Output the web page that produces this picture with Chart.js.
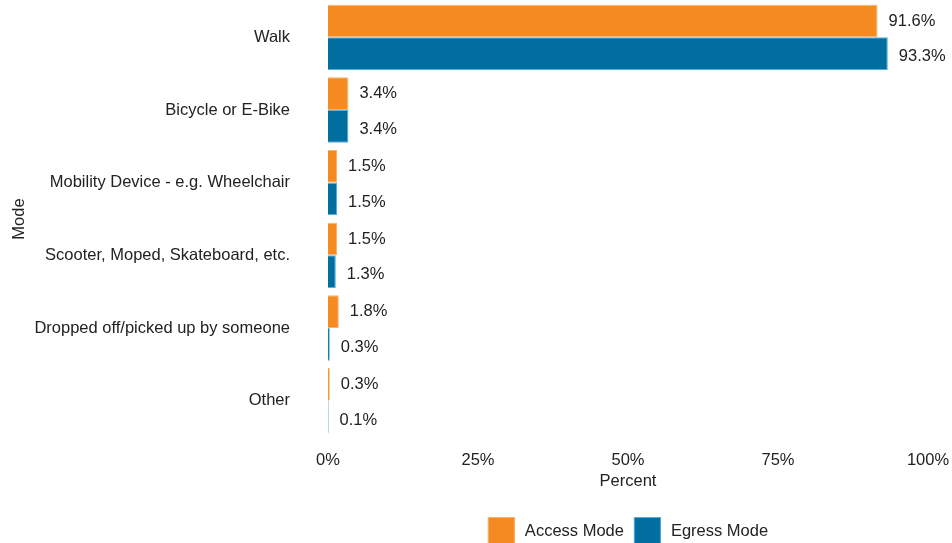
<!DOCTYPE html>
<html>
<head>
<meta charset="utf-8">
<script src="https://cdn.jsdelivr.net/npm/chart.js@4"></script>
<style>
  html, body { margin: 0; padding: 0; background: #fff; }
  #wrap { width: 952px; height: 543px; }
</style>
</head>
<body>
<div id="wrap"><canvas id="chart1"></canvas></div>
<script>
const modes = ["Walk", "Bicycle or E-Bike", "Mobility Device - e.g. Wheelchair",
    "Scooter, Moped, Skateboard, etc.", "Dropped off/picked up by someone", "Other"];
const accessMode = [91.6, 3.4, 1.5, 1.5, 1.8, 0.3];
const egressMode = [93.3, 3.4, 1.5, 1.3, 0.3, 0.1];
const percentTicks = [0, 25, 50, 75, 100];

const FONT = "'Liberation Sans', Arial, sans-serif";
const FSIZE = 16.5;
Chart.defaults.font.family = FONT;
Chart.defaults.color = "#222";

// Draw value labels right of every bar (no datalabels plugin offline)
const barLabels = {
    id: "barLabels",
    afterDatasetsDraw(chart) {
        const ctx = chart.ctx;
        ctx.save();
        ctx.font = FSIZE + "px " + FONT;
        ctx.fillStyle = "#222";
        ctx.textBaseline = "middle";
        ctx.textAlign = "left";
        chart.data.datasets.forEach((ds, i) => {
            const dy = i === 0 ? 0 : 3;
            chart.getDatasetMeta(i).data.forEach((bar, j) => {
                ctx.fillText(ds.data[j].toFixed(1) + "%", bar.x + 11, bar.y + dy);
            });
        });
        ctx.restore();
    }
};

// Legend at the bottom, centred under the plot area
const bottomLegend = {
    id: "bottomLegend",
    afterDraw(chart) {
        const ctx = chart.ctx;
        const box = 27, gapText = 10, gapItem = 10;
        ctx.save();
        ctx.font = FSIZE + "px " + FONT;
        const items = chart.data.datasets.map(ds => ({
            ds: ds, w: ctx.measureText(ds.label).width
        }));
        let total = 0;
        items.forEach((it, k) => {
            total += box + gapText + it.w + (k < items.length - 1 ? gapItem : 0);
        });
        const area = chart.chartArea;
        let x = (area.left + area.right) / 2 - total / 2;
        const top = 517;
        items.forEach(it => {
            ctx.fillStyle = it.ds.backgroundColor;
            ctx.fillRect(x, top, box, box);
            ctx.strokeStyle = it.ds.borderColor;
            ctx.lineWidth = 1;
            ctx.strokeRect(x + 0.5, top + 0.5, box - 1, box - 1);
            x += box + gapText;
            ctx.fillStyle = "#222";
            ctx.textBaseline = "middle";
            ctx.textAlign = "left";
            ctx.fillText(it.ds.label, x, top + 14);
            x += it.w + gapItem;
        });
        ctx.restore();
    }
};

const chartData = {
    labels: modes,
    datasets: [
        {
            label: "Access Mode",
            backgroundColor: "#F58B20",
            borderColor: "#F9B26A",
            borderWidth: 1,
            data: accessMode
        },
        {
            label: "Egress Mode",
            backgroundColor: "#006FA0",
            borderColor: "#56AEDF",
            borderWidth: 1,
            data: egressMode
        }
    ]
};

const chartConfig = {
    type: "bar",
    data: chartData,
    plugins: [barLabels, bottomLegend],
    options: {
        indexAxis: "y",
        responsive: true,
        maintainAspectRatio: false,
        animation: false,
        layout: { padding: { top: 1, right: 24, left: 0, bottom: 46 } },
        datasets: {
            bar: { categoryPercentage: 0.9, barPercentage: 1.0 }
        },
        plugins: {
            tooltip: { enabled: false },
            legend: { display: false }
        },
        scales: {
            x: {
                min: 0,
                max: 100,
                afterBuildTicks: (scale) => {
                    scale.ticks = percentTicks.map(v => ({ value: v }));
                },
                afterFit: (scale) => {
                    scale.height = 60;
                    scale.paddingLeft = 0;
                    scale.paddingRight = 0;
                },
                grid: { display: false, drawTicks: false },
                border: { display: false },
                ticks: {
                    padding: 14,
                    font: { size: FSIZE },
                    color: "#222",
                    callback: (v) => v + "%"
                },
                title: {
                    display: true,
                    text: "Percent",
                    font: { size: FSIZE },
                    color: "#222",
                    padding: { top: 0, bottom: 6 }
                }
            },
            y: {
                afterFit: (scale) => {
                    scale.width = 328;
                    scale.paddingTop = 0;
                    scale.paddingBottom = 0;
                },
                grid: { display: false, drawTicks: false },
                border: { display: false },
                ticks: {
                    padding: 38,
                    font: { size: FSIZE },
                    color: "#222"
                },
                title: {
                    display: true,
                    text: "Mode",
                    font: { size: FSIZE },
                    color: "#222",
                    padding: { top: 10, bottom: 0 }
                }
            }
        }
    }
};

new Chart(document.getElementById("chart1"), chartConfig);
</script>
</body>
</html>
